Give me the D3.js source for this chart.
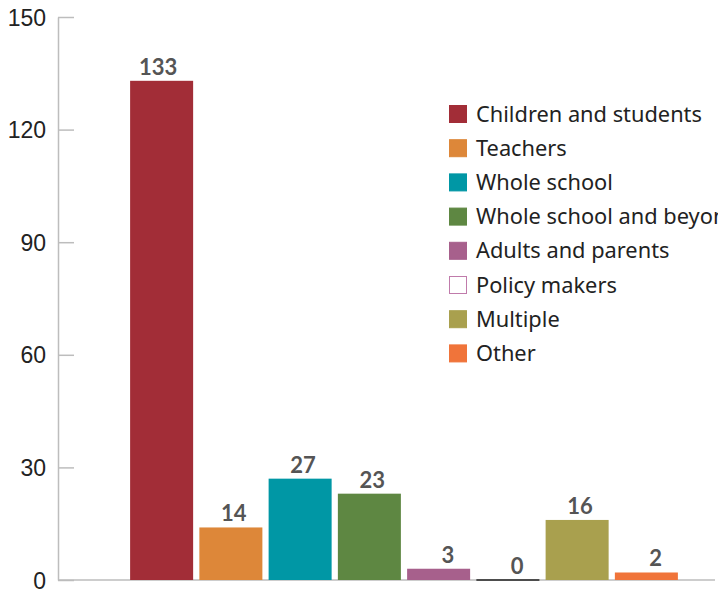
<!DOCTYPE html>
<html lang="en">
<head>
<meta charset="UTF-8">
<title>Target groups</title>
<script src="https://d3js.org/d3.v7.min.js"></script>
<style>
    body {
        margin: 0;
        padding: 0;
        background: #fff;
        font-family: 'Lato', sans-serif;
    }
    svg { display: block; }
    .y-axis text {
        font-size: 23px;
        fill: #222;
    }
    .y-axis path, .y-axis line {
        stroke: #bdbdbd;
        stroke-width: 1.5;
    }
    .value-label {
        font-size: 22px;
        font-weight: 700;
        fill: #555;
    }
    .legend text {
        font-family: 'Noto Sans', sans-serif;
        font-size: 21.8px;
        fill: #222;
    }
</style>
</head>
<body>
<svg></svg>
<script>
    const categories = ["Children and students", "Teachers", "Whole school", "Whole school and beyond",
        "Adults and parents", "Policy makers", "Multiple", "Other"];
    const values = [133, 14, 27, 23, 3, 0, 16, 2];
    const colors = ["#a22d37", "#dd8739", "#0097a5", "#5e8742", "#a7608c", "#ffffff", "#a9a04e", "#f0743a"];
    const yTicks = [0, 30, 60, 90, 120, 150];

    const W = 718, H = 592;
    const svg = d3.select("svg").attr("width", W).attr("height", H);

    const x = d3.scaleBand()
        .domain(categories)
        .range([127, 681])
        .paddingInner(0.09)
        .paddingOuter(0.045);

    const y = d3.scaleLinear()
        .domain([0, 150])
        .range([580, 17]);

    // y axis, ticks pointing into the plot
    const yAxis = svg.append("g")
        .attr("class", "y-axis")
        .attr("transform", "translate(58,0)")
        .call(d3.axisRight(y).tickValues(yTicks).tickSize(16).tickSizeOuter(0));
    yAxis.selectAll("text")
        .attr("x", -12)
        .attr("dy", "0.35em")
        .style("text-anchor", "end");

    // baseline
    svg.append("line")
        .attr("x1", 58).attr("x2", 715)
        .attr("y1", y(0)).attr("y2", y(0))
        .attr("stroke", "#bdbdbd")
        .attr("stroke-width", 1.5);

    const data = categories.map((c, i) => ({ cat: c, value: values[i], color: colors[i] }));

    svg.selectAll(".bar")
        .data(data)
        .enter()
        .append("rect")
        .attr("class", "bar")
        .attr("x", d => x(d.cat))
        .attr("width", x.bandwidth())
        .attr("y", d => y(d.value))
        .attr("height", d => y(0) - y(d.value))
        .attr("fill", d => d.color);

    // zero-height bars still show as a dark line on the baseline
    svg.selectAll(".zero-bar")
        .data(data.filter(d => d.value === 0))
        .enter()
        .append("line")
        .attr("class", "zero-bar")
        .attr("x1", d => x(d.cat))
        .attr("x2", d => x(d.cat) + x.bandwidth())
        .attr("y1", d => y(d.value))
        .attr("y2", d => y(d.value))
        .attr("stroke", "#222")
        .attr("stroke-width", 1.5);

    svg.selectAll(".value-label")
        .data(data)
        .enter()
        .append("text")
        .attr("class", "value-label")
        .attr("x", d => x(d.cat) + x.bandwidth() * 0.75)
        .attr("y", d => y(d.value) - 6)
        .attr("text-anchor", "end")
        .text(d => d.value);

    // legend
    const legend = svg.append("g").attr("class", "legend");
    const items = legend.selectAll("g")
        .data(data)
        .enter()
        .append("g")
        .attr("transform", (d, i) => `translate(449,${114 + i * 34.2})`);

    items.append("rect")
        .attr("x", 0.5)
        .attr("y", -8.5)
        .attr("width", 17)
        .attr("height", 17)
        .attr("fill", d => d.color)
        .attr("stroke", d => d.value === 0 ? "#c07bab" : d.color)
        .attr("stroke-width", 1);

    items.append("text")
        .attr("x", 27)
        .attr("dy", "0.35em")
        .text(d => d.cat);
</script>
</body>
</html>
